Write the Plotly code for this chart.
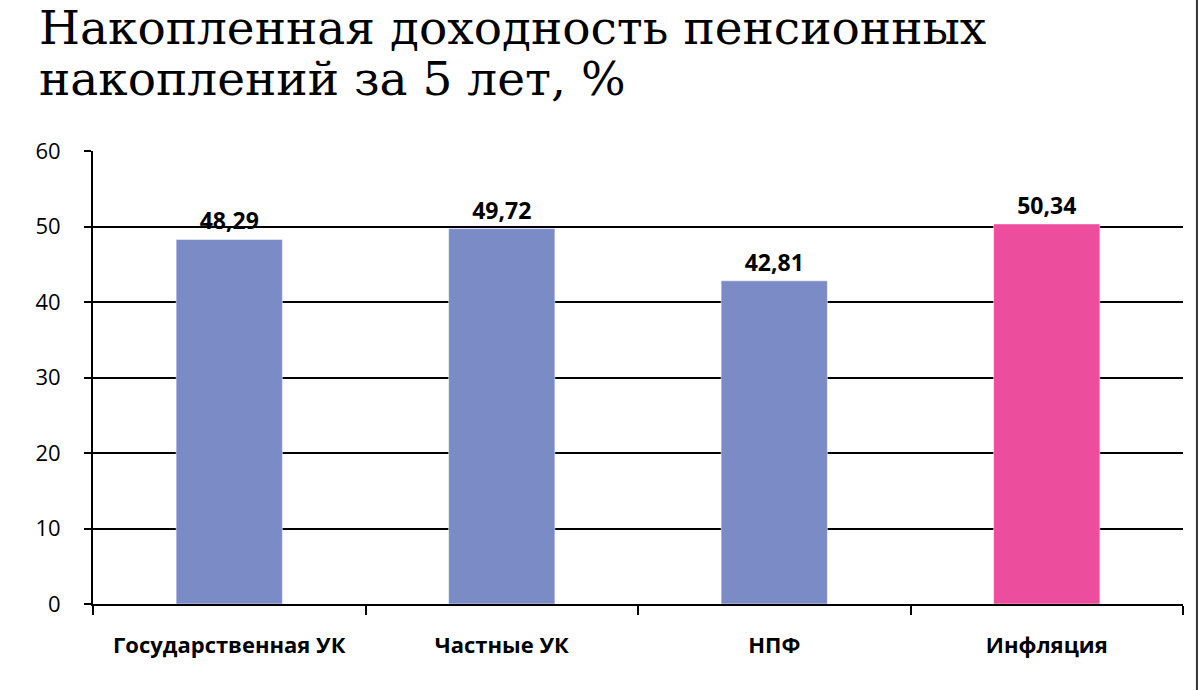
import plotly.graph_objects as go

title_lines = ["Накопленная доходность пенсионных", "накоплений за 5 лет, %"]
categories = ["Государственная УК", "Частные УК", "НПФ", "Инфляция"]
values = [48.29, 49.72, 42.81, 50.34]
bar_colors = ["#7B8BC6", "#7B8BC6", "#7B8BC6", "#EC4E9D"]
y_ticks = [0, 10, 20, 30, 40, 50, 60]

fig = go.Figure(
    data=[
        go.Bar(
            x=categories,
            y=values,
            marker=dict(
                color=bar_colors,
                line=dict(color="rgba(255,255,255,0.5)", width=1)
            ),
            texttemplate="%{y:.2f}",
            textposition="outside",
            textfont=dict(family="Open Sans", size=23, color="black", weight="bold"),
            cliponaxis=False,
            hoverinfo="skip"
        )
    ],
    layout=go.Layout(
        width=1200,
        height=690,
        separators=", ",
        paper_bgcolor="white",
        plot_bgcolor="white",
        showlegend=False,
        bargap=0.61,
        margin=dict(l=93, r=17, t=151, b=86)
    )
)
# two title lines, each in its own box so the line spacing can be tighter
for i, line in enumerate(title_lines):
    fig.add_annotation(
        text=line,
        xref="paper", yref="paper",
        x=-56 / 1090, y=1 + (151 - 51 * i) / 453,
        xanchor="left", yanchor="top",
        height=51,
        showarrow=False,
        font=dict(family="DejaVu Serif", size=47, color="black")
    )
fig.update_xaxes(
    type="category",
    showline=True,
    linecolor="black",
    linewidth=2,
    ticks="outside",
    tickson="boundaries",
    ticklen=9,
    tickwidth=2,
    tickcolor="black",
    ticklabelstandoff=21,
    tickfont=dict(family="Open Sans", size=22, color="black", weight="bold"),
    showgrid=False
)
fig.update_yaxes(
    range=[0, 60],
    tickvals=y_ticks,
    showline=True,
    linecolor="black",
    linewidth=2,
    ticks="outside",
    ticklen=7,
    tickwidth=2,
    tickcolor="black",
    ticklabelstandoff=19,
    tickfont=dict(family="Open Sans", size=22, color="black"),
    showgrid=True,
    gridcolor="black",
    gridwidth=2,
    zeroline=False
)
# page frame on the right edge
fig.add_shape(
    type="line",
    xref="paper", yref="paper",
    x0=1.0128, x1=1.0128, y0=-0.3, y1=1.4,
    line=dict(color="#333333", width=2)
)
# drop the default body margin so the figure fills the window
fig.write_html(
    "out.html",
    config={"displayModeBar": False},
    post_script="document.body.style.margin = '0px';"
)
